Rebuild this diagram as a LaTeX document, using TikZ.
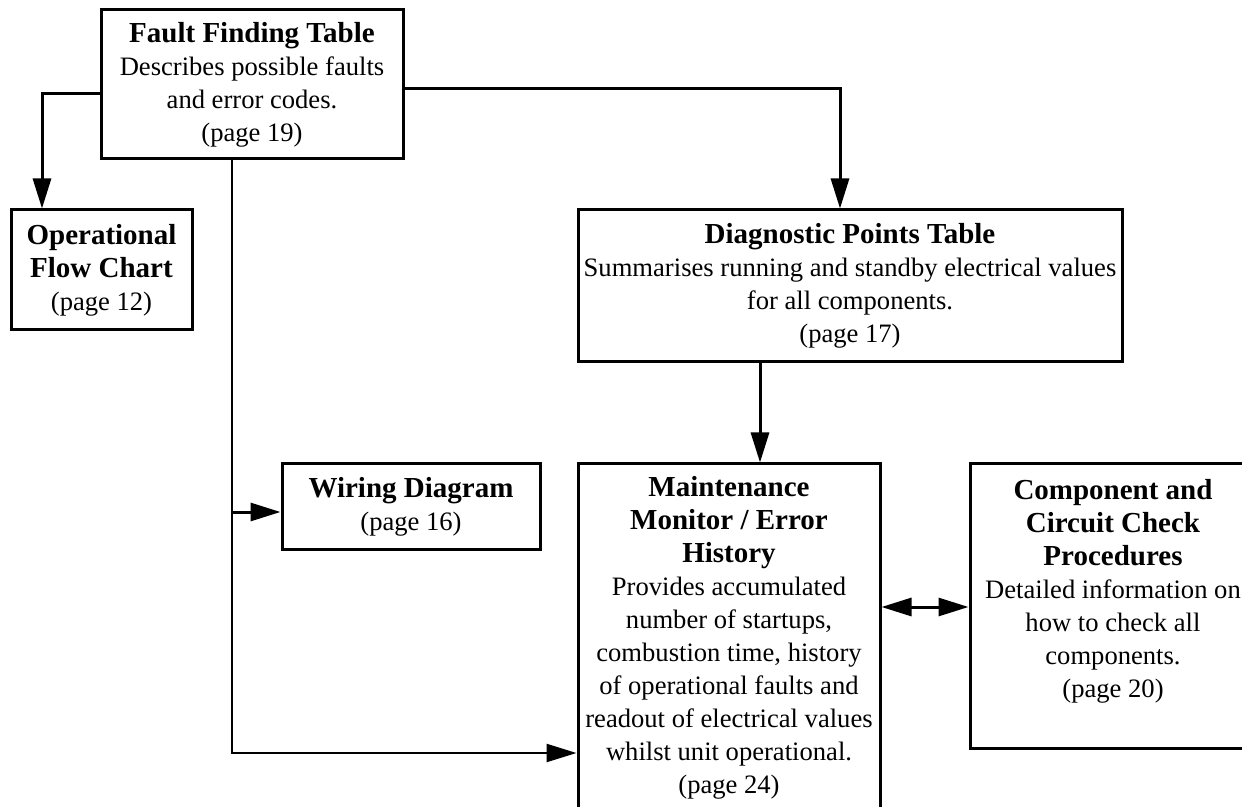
\documentclass[tikz,border=0pt]{standalone}
\usepackage{fontspec}
\setmainfont{Liberation Serif}
\usetikzlibrary{arrows.meta}

\newcommand{\ttl}[1]{{\fontsize{14.5}{16.5}\selectfont\bfseries #1}}
\tikzset{
  box/.style={draw,line width=1.5pt,align=center,inner sep=2pt,
    font=\fontsize{13.3}{16.5}\selectfont},
  link/.style={line width=1.5pt},
  arr/.style={link,-{Triangle[length=15pt,width=9pt]}},
  dbl/.style={link,{Triangle[length=15pt,width=9pt]}-{Triangle[length=15pt,width=9pt]}}
}

\begin{document}
\begin{tikzpicture}[x=0.5pt,y=-0.5pt]
\useasboundingbox (0,0) rectangle (1242,807);
\clip (0,0) rectangle (1242,807);

\node[box,minimum width=151pt,minimum height=74.5pt] at (252,84.5) (fft)
  {\ttl{Fault Finding Table}\\Describes possible faults\\and error codes.\\(page 19)};
\node[box,minimum width=90.5pt,minimum height=60pt] at (101.5,270) (ofc)
  {\ttl{Operational}\\\ttl{Flow Chart}\\(page 12)};
\node[box,minimum width=272pt,minimum height=76pt] at (850,286) (diag)
  {\ttl{Diagnostic Points Table}\\Summarises running and standby electrical values\\for all components.\\(page 17)};
\node[box,minimum width=129pt,minimum height=42.5pt] at (411,506.5) (wiring)
  {\ttl{Wiring Diagram}\\(page 16)};
\node[box,minimum width=151pt,minimum height=173.5pt] at (729,637.5) (maint)
  {\ttl{Maintenance}\\\ttl{Monitor / Error}\\\ttl{History}\\Provides accumulated\\number of startups,\\combustion time, history\\of operational faults and\\readout of electrical values\\whilst unit operational.\\(page 24)};
\node[box,minimum width=143pt,minimum height=142pt] at (1113,606) (comp)
  {\ttl{Component and}\\\ttl{Circuit Check}\\\ttl{Procedures}\\Detailed information on\\how to check all\\components.\\(page 20)\rule[-18pt]{0pt}{0pt}};

% junction points
\coordinate (c1) at (42,94);
\coordinate (c2) at (840,89);
\coordinate (c3) at (232,753);
\coordinate (c4) at (232,512);
\coordinate (c5) at (760,0);
\coordinate (c6) at (0,607);

\draw[arr] (fft.west |- c1) -| (ofc.north -| c1);
\draw[arr] (fft.east |- c2) -| (diag.north -| c2);
\draw[arr,line width=1.2pt] (fft.south -| c3) |- (maint.west |- c3);
\draw[arr] (c4) -- (wiring.west |- c4);
\draw[arr] (diag.south -| c5) -- (maint.north -| c5);
\draw[dbl] (maint.east |- c6) -- (comp.west |- c6);
\end{tikzpicture}
\end{document}
